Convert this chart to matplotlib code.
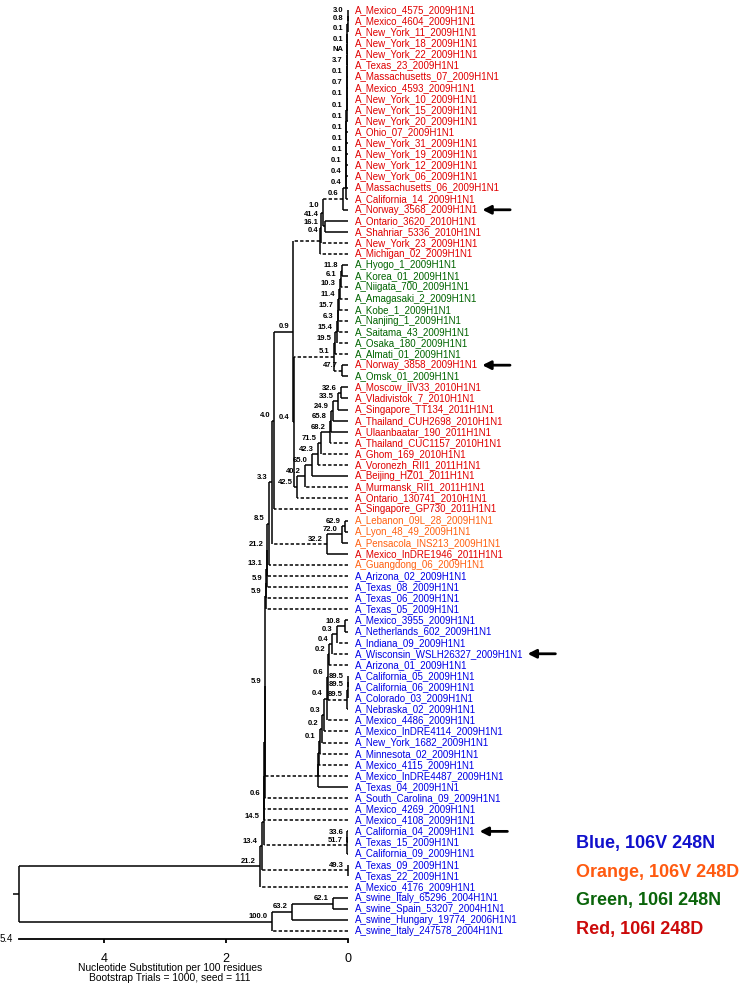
import matplotlib
matplotlib.use("Agg")
import matplotlib.pyplot as plt

plt.rcParams["font.family"] = ["Liberation Sans", "DejaVu Sans"]
plt.rcParams["lines.dashed_pattern"] = [2.2, 1.4]

# leaf labels, top to bottom
LEAVES = [
    "A_Mexico_4575_2009H1N1", "A_Mexico_4604_2009H1N1", "A_New_York_11_2009H1N1",
    "A_New_York_18_2009H1N1", "A_New_York_22_2009H1N1", "A_Texas_23_2009H1N1",
    "A_Massachusetts_07_2009H1N1", "A_Mexico_4593_2009H1N1", "A_New_York_10_2009H1N1",
    "A_New_York_15_2009H1N1", "A_New_York_20_2009H1N1", "A_Ohio_07_2009H1N1",
    "A_New_York_31_2009H1N1", "A_New_York_19_2009H1N1", "A_New_York_12_2009H1N1",
    "A_New_York_06_2009H1N1", "A_Massachusetts_06_2009H1N1", "A_California_14_2009H1N1",
    "A_Norway_3568_2009H1N1", "A_Ontario_3620_2010H1N1", "A_Shahriar_5336_2010H1N1",
    "A_New_York_23_2009H1N1", "A_Michigan_02_2009H1N1",
    "A_Hyogo_1_2009H1N1", "A_Korea_01_2009H1N1", "A_Niigata_700_2009H1N1",
    "A_Amagasaki_2_2009H1N1", "A_Kobe_1_2009H1N1", "A_Nanjing_1_2009H1N1",
    "A_Saitama_43_2009H1N1", "A_Osaka_180_2009H1N1", "A_Almati_01_2009H1N1",
    "A_Norway_3858_2009H1N1", "A_Omsk_01_2009H1N1",
    "A_Moscow_IIV33_2010H1N1", "A_Vladivistok_7_2010H1N1", "A_Singapore_TT134_2011H1N1",
    "A_Thailand_CUH2698_2010H1N1", "A_Ulaanbaatar_190_2011H1N1", "A_Thailand_CUC1157_2010H1N1",
    "A_Ghom_169_2010H1N1", "A_Voronezh_RII1_2011H1N1", "A_Beijing_HZ01_2011H1N1",
    "A_Murmansk_RII1_2011H1N1", "A_Ontario_130741_2010H1N1", "A_Singapore_GP730_2011H1N1",
    "A_Lebanon_09L_28_2009H1N1", "A_Lyon_48_49_2009H1N1", "A_Pensacola_INS213_2009H1N1",
    "A_Mexico_InDRE1946_2011H1N1", "A_Guangdong_06_2009H1N1",
    "A_Arizona_02_2009H1N1", "A_Texas_08_2009H1N1", "A_Texas_06_2009H1N1",
    "A_Texas_05_2009H1N1", "A_Mexico_3955_2009H1N1", "A_Netherlands_602_2009H1N1",
    "A_Indiana_09_2009H1N1", "A_Wisconsin_WSLH26327_2009H1N1", "A_Arizona_01_2009H1N1",
    "A_California_05_2009H1N1", "A_California_06_2009H1N1", "A_Colorado_03_2009H1N1",
    "A_Nebraska_02_2009H1N1", "A_Mexico_4486_2009H1N1", "A_Mexico_InDRE4114_2009H1N1",
    "A_New_York_1682_2009H1N1", "A_Minnesota_02_2009H1N1", "A_Mexico_4115_2009H1N1",
    "A_Mexico_InDRE4487_2009H1N1", "A_Texas_04_2009H1N1", "A_South_Carolina_09_2009H1N1",
    "A_Mexico_4269_2009H1N1", "A_Mexico_4108_2009H1N1", "A_California_04_2009H1N1",
    "A_Texas_15_2009H1N1", "A_California_09_2009H1N1", "A_Texas_09_2009H1N1",
    "A_Texas_22_2009H1N1", "A_Mexico_4176_2009H1N1",
    "A_swine_Italy_65296_2004H1N1", "A_swine_Spain_53207_2004H1N1",
    "A_swine_Hungary_19774_2006H1N1", "A_swine_Italy_247578_2004H1N1",
]
LEAF_GROUP = ("RRRRRRRRRRRRRRRRRRRRRRR" "GGGGGGGGG" "R" "G" "RRRRRRRRRRRR"
              "OOO" "R" "O" "BBBBBBBBBBBBBBBBBBBBBBBBBBBBBBBBB")
ARROWED = [18, 32, 58, 74]

GROUP_COLORS = {"R": "#e00000", "G": "#006400", "O": "#ff6010", "B": "#0000e6"}
LEGEND_LABELS = ["Blue, 106V 248N", "Orange, 106V 248D", "Green, 106I 248N", "Red, 106I 248D"]
LEGEND_COLORS = ["#1010cc", "#ff5a10", "#0a640a", "#cc0a0a"]

# clades: successive joins (members[0]+members[1], then +members[2], ...)
# ints are leaf indices, strings are clade names; heights in substitutions/100 residues
C1_HEIGHTS = [0.005, 0.007, 0.009, 0.011, 0.013, 0.015, 0.017, 0.019, 0.021,
              0.023, 0.025, 0.027, 0.029, 0.031, 0.033, 0.035, 0.037]
C1_SUPPORT = ["3.0", "0.8", "0.1", "0.1", "NA", "3.7", "0.1", "0.7", "0.1",
              "0.1", "0.1", "0.1", "0.1", "0.1", "0.1", "0.4", "0.4"]
GREEN_HEIGHTS = [0.098, 0.115, 0.131, 0.148, 0.164, 0.172, 0.18, 0.205]
GREEN_SUPPORT = ["11.8", "6.1", "10.3", "11.4", "15.7", "6.3", "15.4", "19.5"]
RB_HEIGHTS = [0.115, 0.164, 0.246, 0.279, 0.295, 0.443, 0.492, 0.59, 0.705, 0.836]
RB_SUPPORT = ["32.6", "33.5", "24.9", "65.8", "68.2", "71.5", "42.3", "65.0", "40.2", "42.5"]
S_HEIGHTS = [0.05, 0.18, 0.26, 0.31, 0.33, 0.345, 0.39, 0.425, 0.46, 0.475, 0.485, 0.49]
S_SUPPORT = ["10.8", "0.3", "0.4", "0.2", "0.6", "0.4", "0.3", "0.2", "0.1", "", "", ""]
BIG_HEIGHTS = [1.32, 1.33, 1.34, 1.35, 1.36, 1.365, 1.37, 1.375, 1.385, 1.41, 1.443]
BIG_SUPPORT = ["21.2", "13.1", "5.9", "5.9", "5.9", "", "", "0.6", "14.5", "13.4", "21.2"]

CLADES = [
    ("C1", list(range(0, 18)), C1_HEIGHTS, C1_SUPPORT),
    ("N_CN", ["C1", 18], [0.085], ["0.6"]),
    ("N_OS", [19, 20], [0.377], ["41.4"]),
    ("N_A", ["N_CN", "N_OS"], [0.41], ["1.0"]),
    ("N_B", ["N_A", 21], [0.443], ["16.1"]),
    ("N_C", ["N_B", 22], [0.467], ["0.4"]),
    ("G8", list(range(23, 32)), GREEN_HEIGHTS, GREEN_SUPPORT),
    ("G9", [32, 33], [0.098], ["47.7"]),
    ("G10", ["G8", "G9"], [0.23], ["5.1"]),
    ("RB", list(range(34, 45)), RB_HEIGHTS, RB_SUPPORT),
    ("X", ["G10", "RB"], [0.885], ["0.4"]),
    ("P293", ["N_C", "X"], [0.90], ["0.9"]),
    ("P274", ["P293", 45], [1.21], ["4.0"]),
    ("ORG", [46, 47, 48, 49], [0.05, 0.10, 0.34], ["62.9", "72.0", "32.2"]),
    ("P273", ["P274", "ORG"], [1.245], ["3.3"]),
    ("P269", ["P273", 50], [1.295], ["8.5"]),
    ("CAL", [60, 61, 62, 63], [0.004, 0.008, 0.012], ["89.5", "89.5", "89.5"]),
    ("S", [55, 56, 57, 58, 59, "CAL", 64, 65, 66, 67, 68, 69, 70], S_HEIGHTS, S_SUPPORT),
    ("CA", [74, 75, 76], [0.01, 0.02], ["33.6", "51.7"]),
    ("T", [77, 78], [0.005], ["49.3"]),
    ("BIG", ["P269", 51, 52, 53, 54, "S", 71, 72, 73, "CA", "T", 79], BIG_HEIGHTS, BIG_SUPPORT),
    ("SW", [80, 81, 82, 83], [0.246, 0.918, 1.246], ["62.1", "63.2", "100.0"]),
    ("ROOT", ["BIG", "SW"], [5.39], [""]),
]

# branches drawn dashed (branch from this node up to its parent)
DASHED = {"N_CN", 21, 22, "N_C", 25, 26, 27, 28, 29, 30, 31, "G9", "G10",
          39, 40, 41, 43, 44, 45, "ORG", 50, 51, 52, 53, 54, 57, 58, 59, "CAL",
          64, 65, 66, 67, 68, 69, "S", 71, 72, 73, "CA", "T", 79, 83}

# crowded support labels are stacked, as in the original (offsets in points)
LABEL_NUDGE = {"N_A": (-3, 2.5), "N_OS": (-4.3, 6.0), "N_B": (-1.5, 1.0), "N_C": (-1, 5.0)}

# build binary nodes
nodes = {}
for name, members, heights, support in CLADES:
    prev = members[0]
    for k in range(len(heights)):
        key = name if k == len(heights) - 1 else f"{name}.{k + 1}"
        nodes[key] = {"kids": [prev, members[k + 1]], "h": heights[k], "bs": support[k]}
        prev = key

parent = {}
for key, v in nodes.items():
    for c in v["kids"]:
        parent[c] = key


def height(n):
    return 0.0 if isinstance(n, int) else nodes[n]["h"]


ypos = {}


def y_of(n):
    if isinstance(n, int):
        return float(n)
    if n not in ypos:
        a, b = nodes[n]["kids"]
        ypos[n] = (y_of(a) + y_of(b)) / 2
    return ypos[n]


fig = plt.figure(figsize=(7.42, 9.89), dpi=100)
ax = fig.add_axes([0, 0, 1, 1])
ax.set_xlim(5.705, -6.459)
ax.set_ylim(88.2, -0.9)

LW = 1.1
solid, dashed = [], []
for child, par in parent.items():
    seg = (y_of(child), height(child), height(par))
    (dashed if child in DASHED else solid).append(seg)

ax.hlines([s[0] for s in solid], [s[1] for s in solid], [s[2] for s in solid],
          colors="black", lw=LW)
ax.hlines([s[0] for s in dashed], [s[1] for s in dashed], [s[2] for s in dashed],
          colors="black", lw=LW, linestyles="--")
for key, v in nodes.items():
    a, b = v["kids"]
    ax.vlines(v["h"], y_of(a), y_of(b), colors="black", lw=LW)

# little stub left of the root
ax.hlines(y_of("ROOT"), nodes["ROOT"]["h"], nodes["ROOT"]["h"] + 0.1, colors="black", lw=LW)

# bootstrap values
for key, v in nodes.items():
    if v["bs"]:
        ax.annotate(v["bs"], (v["h"], y_of(key)), xytext=LABEL_NUDGE.get(key, (-3, 1.0)),
                    textcoords="offset points", ha="right", va="bottom",
                    fontsize=5.5, fontweight="bold")

# leaf labels and arrows
for i, name in enumerate(LEAVES):
    txt = ax.annotate(name, (0, i), xytext=(5, 0), textcoords="offset points",
                      ha="left", va="center", fontsize=7, color=GROUP_COLORS[LEAF_GROUP[i]])
    if i in ARROWED:
        ax.annotate("", xy=(1, 0.5), xycoords=txt, xytext=(23, 0), textcoords="offset points",
                    arrowprops=dict(arrowstyle="-|>,head_length=0.5,head_width=0.25",
                                    lw=2.0, color="black", shrinkA=0, shrinkB=3))

# scale bar as the bottom spine
for side in ["top", "left", "right"]:
    ax.spines[side].set_visible(False)
ax.spines["bottom"].set_position(("data", 83.7))
ax.spines["bottom"].set_bounds(0, 5.4)
ax.spines["bottom"].set_linewidth(1.3)
ax.set_xticks([0, 2, 4])
ax.tick_params(axis="x", direction="out", length=3, width=1.3, labelsize=9, pad=7)
ax.yaxis.set_visible(False)
ax.annotate("5.4", (5.4, 83.7), xytext=(-4, 0), textcoords="offset points",
            ha="right", va="center", fontsize=7)
ax.text(2.92, 86.8, "Nucleotide Substitution per 100 residues\nBootstrap Trials = 1000, seed = 111",
        ha="center", va="center", fontsize=7.4, linespacing=1.0)

# colour key
for k, (lab, col) in enumerate(zip(LEGEND_LABELS, LEGEND_COLORS)):
    fig.text(0.776, 0.1476 - k * 0.0293, lab, color=col, fontsize=13, fontweight="bold",
             ha="left", va="center")

fig.savefig("out.png", dpi=100, facecolor="white")
